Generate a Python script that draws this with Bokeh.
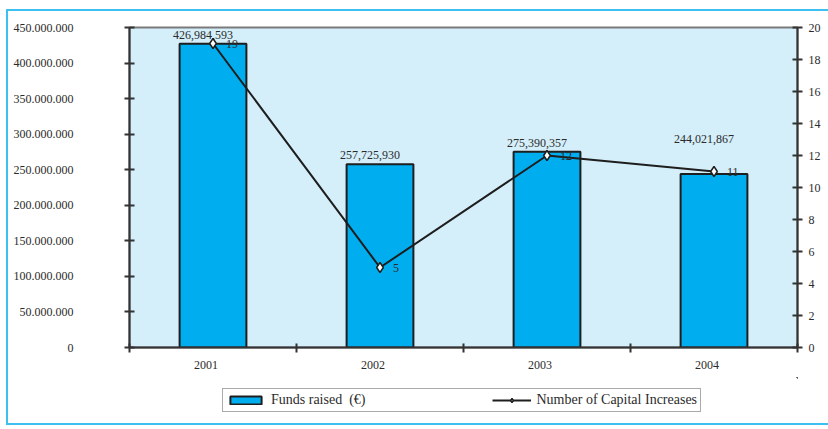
from bokeh.plotting import figure
from bokeh.layouts import column
from bokeh.models import (Range1d, LinearAxis, FixedTicker, Legend, LegendItem,
                          ColumnDataSource)
from bokeh.core.properties import value
from bokeh.embed import file_html
from bokeh.resources import INLINE

# Data
years = ["2001", "2002", "2003", "2004"]
funds_raised = [426984593, 257725930, 275390357, 244021867]
capital_increases = [19, 5, 12, 11]
funds_ticks = [0, 50000000, 100000000, 150000000, 200000000, 250000000,
               300000000, 350000000, 400000000, 450000000]
count_ticks = [0, 2, 4, 6, 8, 10, 12, 14, 16, 18, 20]

# Styling
FONT = "Liberation Serif"
TEXT = "#2b2b2b"
INK = "#1e1e1e"
BAR_FILL = "#00adef"
PLOT_BG = "#d4eefa"
FRAME_CYAN = "#3cc0f0"
bar_label_lift = [-5, -5, -5, -31]   # px above the bar top

xc = [i + 0.5 for i in range(len(years))]
src = ColumnDataSource(dict(
    x=xc,
    funds=funds_raised,
    count=capital_increases,
    funds_txt=[f"{v:,}" for v in funds_raised],
    count_txt=[str(v) for v in capital_increases],
    lift=bar_label_lift,
))

p = figure(frame_width=668, frame_height=320,
           output_backend="svg", toolbar_location=None,
           x_range=Range1d(0, 4), y_range=Range1d(0, 450000000),
           min_border_left=121, min_border_right=31, min_border_top=16,
           min_border_bottom=30,
           background_fill_color=PLOT_BG, border_fill_color="white")
p.grid.visible = False
p.outline_line_color = "#7a7a7a"
p.outline_line_width = 2

# x axis: year labels at category centres, tick marks at category boundaries
xa = p.xaxis[0]
xa.ticker = FixedTicker(ticks=[c - 0.042 for c in xc], minor_ticks=[0, 1, 2, 3, 4])
xa.major_label_overrides = {c - 0.042: y for c, y in zip(xc, years)}
xa.major_tick_in = 0
xa.major_tick_out = 0
xa.minor_tick_in = 4
xa.minor_tick_out = 5
xa.minor_tick_line_color = "#333333"
xa.minor_tick_line_width = 2
xa.axis_line_color = "#333333"
xa.axis_line_width = 2
xa.major_label_standoff = 8
xa.major_label_text_font = FONT
xa.major_label_text_font_size = "12px"
xa.major_label_text_color = TEXT

# left axis: funds raised
ya = p.yaxis[0]
ya.ticker = FixedTicker(ticks=funds_ticks)
ya.major_label_overrides = {t: f"{t:,}".replace(",", ".") for t in funds_ticks}
ya.major_tick_in = 5
ya.major_tick_out = 5
ya.minor_tick_in = 0
ya.minor_tick_out = 0
ya.major_tick_line_color = "#333333"
ya.major_tick_line_width = 2
ya.axis_line_color = "#333333"
ya.axis_line_width = 2
ya.major_label_standoff = 51
ya.major_label_text_font = FONT
ya.major_label_text_font_size = "12px"
ya.major_label_text_color = TEXT

# right axis: number of capital increases
p.extra_y_ranges = {"count": Range1d(0, 20)}
ra = LinearAxis(y_range_name="count", ticker=FixedTicker(ticks=count_ticks))
ra.major_tick_in = 5
ra.major_tick_out = 5
ra.minor_tick_in = 0
ra.minor_tick_out = 0
ra.major_tick_line_color = "#333333"
ra.major_tick_line_width = 2
ra.axis_line_color = "#333333"
ra.axis_line_width = 2
ra.major_label_standoff = 6
ra.major_label_text_font = FONT
ra.major_label_text_font_size = "12px"
ra.major_label_text_color = TEXT
p.add_layout(ra, "right")

# bars
bar_style = dict(fill_color=BAR_FILL, line_color=INK, line_width=2)
p.vbar(x="x", top="funds", width=0.4, source=src, **bar_style)
p.text(x="x", y="funds", text="funds_txt", source=src,
       x_offset=-10, y_offset="lift",
       text_align="center", text_baseline="bottom",
       text_font=value(FONT), text_font_size="12px", text_color=TEXT)

# line with diamond markers
line_style = dict(line_color=INK, line_width=2)
mark_style = dict(marker="diamond", size=10, fill_color="white",
                  line_color=INK, line_width=1.5)
p.line(x="x", y="count", source=src, y_range_name="count", **line_style)
p.scatter(x="x", y="count", source=src, y_range_name="count", **mark_style)
p.text(x="x", y="count", text="count_txt", source=src, y_range_name="count",
       x_offset=13, text_align="left", text_baseline="middle",
       text_font=value(FONT), text_font_size="12px", text_color=TEXT)

# legend strip under the chart: same series, viewed far outside their extent
# so only the legend keys show
lg = figure(width=820, height=46, output_backend="svg", toolbar_location=None,
            x_range=Range1d(-1000, -999), y_range=Range1d(-1e12, -1e12 + 1),
            x_axis_location=None, y_axis_location=None,
            min_border=0, outline_line_color=None,
            background_fill_color="white", border_fill_color="white")
lg.grid.visible = False
key_bar = lg.vbar(x="x", top="funds", width=0.4, source=src, **bar_style)
key_line = lg.line(x="x", y="count", source=src, **line_style)
key_mark = lg.scatter(x="x", y="count", source=src, **mark_style)

legend = Legend(items=[
    LegendItem(label="Funds raised \u00a0(\u20ac)", renderers=[key_bar]),
    LegendItem(label="Number of Capital Increases", renderers=[key_line, key_mark]),
], orientation="horizontal", location=(93, 11))
legend.label_text_font = FONT
legend.label_text_font_size = "14px"
legend.label_text_color = TEXT
legend.glyph_width = 39
legend.glyph_height = 10
legend.label_height = 13
legend.label_standoff = 6
legend.spacing = 126
legend.padding = 3
legend.margin = 0
legend.border_line_color = "#555555"
legend.border_line_width = 1
legend.background_fill_color = "white"
legend.background_fill_alpha = 1
lg.add_layout(legend, "center")

# cyan page frame around the chart
root = column(p, lg, spacing=0, styles={
    "margin-left": "6px", "margin-top": "9px",
    "border-left": f"2px solid {FRAME_CYAN}",
    "border-top": f"2px solid {FRAME_CYAN}",
    "border-bottom": f"2px solid {FRAME_CYAN}",
})

open("out.html", "w").write(file_html(root, INLINE))
